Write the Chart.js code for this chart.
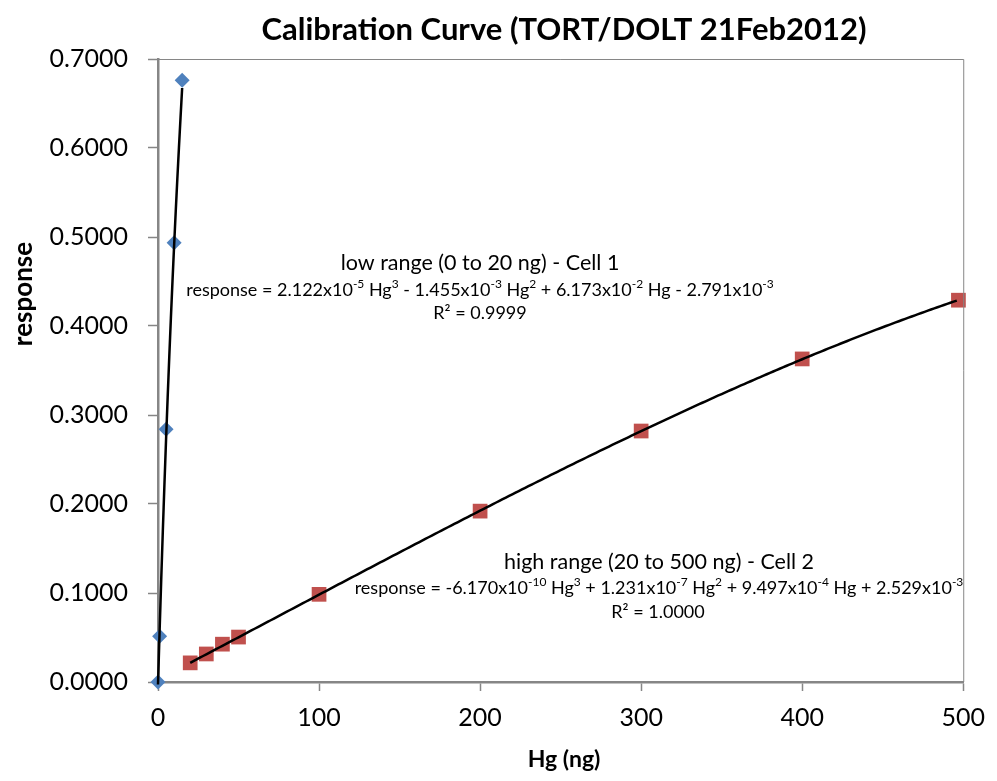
<!DOCTYPE html>
<html>
<head>
<meta charset="utf-8">
<script src="https://cdn.jsdelivr.net/npm/chart.js@4.4.1/dist/chart.umd.min.js"></script>
<style>
  html, body { margin: 0; padding: 0; background: #fff; }
  #wrap { width: 997px; height: 781px; position: relative; }
</style>
</head>
<body>
<div id="wrap"><canvas id="chart"></canvas></div>
<script>
  // measured standards, two cells
  const lowHg = [0, 1, 5, 10, 15];
  const lowResponse = [0.0000, 0.0515, 0.2840, 0.4935, 0.6760];
  const highHg = [20, 30, 40, 50, 100, 200, 300, 400, 497];
  const highResponse = [0.0215, 0.0315, 0.0425, 0.0505, 0.0985, 0.1920, 0.2820, 0.3630, 0.4290];

  // cubic fit coefficients, constant term first
  const lowCoef = [-2.791e-3, 6.173e-2, -1.455e-3, 2.122e-5];
  const highCoef = [2.529e-3, 9.497e-4, 1.231e-7, -6.170e-10];
  const lowFitRange = [0, 15];
  const highFitRange = [20, 497];

  const xTicks = [0, 100, 200, 300, 400, 500];
  const yTicks = [0, 0.1, 0.2, 0.3, 0.4, 0.5, 0.6, 0.7];

  const chartTitle = 'Calibration Curve (TORT/DOLT 21Feb2012)';
  const xTitle = 'Hg (ng)';
  const yTitle = 'response';
  const lowLabel = [
    'low range (0 to 20 ng) - Cell 1',
    'response = 2.122x10^{-5} Hg^{3} - 1.455x10^{-3} Hg^{2} + 6.173x10^{-2} Hg - 2.791x10^{-3}',
    'R² = 0.9999'
  ];
  const highLabel = [
    'high range (20 to 500 ng) - Cell 2',
    'response = -6.170x10^{-10} Hg^{3} + 1.231x10^{-7} Hg^{2} + 9.497x10^{-4} Hg + 2.529x10^{-3}',
    'R² = 1.0000'
  ];

  const FONT = 'Lato, "Open Sans", sans-serif';
  const AXIS = '#868686';

  function poly(c, x) {
    return c[0] + c[1] * x + c[2] * x * x + c[3] * x * x * x;
  }
  function curve(c, range, step) {
    const pts = [];
    for (let x = range[0]; x <= range[1] + 1e-9; x += step) pts.push({ x: x, y: poly(c, x) });
    return pts;
  }
  const toPts = (xs, ys) => xs.map((x, i) => ({ x: x, y: ys[i] }));

  // text with ^{...} superscripts, centred on cx
  function drawRich(ctx, str, cx, cy, size) {
    const parts = [];
    const re = /\^\{([^}]*)\}/g;
    let last = 0, m;
    while ((m = re.exec(str)) !== null) {
      if (m.index > last) parts.push({ t: str.slice(last, m.index), sup: false });
      parts.push({ t: m[1], sup: true });
      last = re.lastIndex;
    }
    if (last < str.length) parts.push({ t: str.slice(last), sup: false });
    const supSize = Math.round(size * 0.68);
    let total = 0;
    parts.forEach(p => {
      ctx.font = (p.sup ? supSize : size) + 'px ' + FONT;
      p.w = ctx.measureText(p.t).width;
      total += p.w;
    });
    let x = cx - total / 2;
    ctx.textAlign = 'left';
    ctx.textBaseline = 'middle';
    parts.forEach(p => {
      ctx.font = (p.sup ? supSize : size) + 'px ' + FONT;
      ctx.fillText(p.t, x, p.sup ? cy - size * 0.33 : cy);
      x += p.w;
    });
  }

  const decor = {
    id: 'decor',
    afterDraw(chart) {
      const ctx = chart.ctx;
      const a = chart.chartArea;
      ctx.save();
      // plot frame on top and right
      ctx.strokeStyle = AXIS;
      ctx.lineWidth = 1;
      ctx.beginPath();
      ctx.moveTo(a.left, a.top + 0.5);
      ctx.lineTo(a.right + 0.5, a.top + 0.5);
      ctx.lineTo(a.right + 0.5, a.bottom);
      ctx.stroke();

      ctx.fillStyle = '#000';
      ctx.textAlign = 'center';
      ctx.textBaseline = 'middle';
      ctx.font = 'bold 31px ' + FONT;
      ctx.fillText(chartTitle, 564, 30);

      ctx.font = 'bold 23px ' + FONT;
      ctx.fillText(xTitle, 564, 760);
      ctx.save();
      ctx.translate(24, 294);
      ctx.rotate(-Math.PI / 2);
      ctx.font = 'bold 26px ' + FONT;
      ctx.fillText(yTitle, 0, 0);
      ctx.restore();

      ctx.textAlign = 'center';
      ctx.font = '21.5px ' + FONT;
      ctx.fillText(lowLabel[0], 480, 263);
      drawRich(ctx, lowLabel[1], 480, 290, 18);
      drawRich(ctx, lowLabel[2], 480, 313, 18);

      ctx.textAlign = 'center';
      ctx.font = '21.5px ' + FONT;
      ctx.fillText(highLabel[0], 659, 562);
      drawRich(ctx, highLabel[1], 659, 588, 18);
      drawRich(ctx, highLabel[2], 658, 612, 18);
      ctx.restore();
    }
  };

  new Chart(document.getElementById('chart'), {
    type: 'scatter',
    data: {
      datasets: [
        {
          label: 'low fit',
          data: curve(lowCoef, lowFitRange, 1),
          showLine: true,
          tension: 0.001,
          borderColor: '#000',
          borderWidth: 2.5,
          pointRadius: 0,
          clip: false,
          order: 0
        },
        {
          label: 'high fit',
          data: curve(highCoef, highFitRange, 4),
          showLine: true,
          tension: 0.001,
          borderColor: '#000',
          borderWidth: 2.5,
          pointRadius: 0,
          clip: false,
          order: 0
        },
        {
          label: 'Cell 1',
          data: toPts(lowHg, lowResponse),
          pointStyle: 'rectRot',
          pointRadius: 7.5,
          backgroundColor: '#4F81BD',
          borderColor: '#4F81BD',
          borderWidth: 0,
          clip: false,
          order: 1
        },
        {
          label: 'Cell 2',
          data: toPts(highHg, highResponse),
          pointStyle: 'rect',
          pointRadius: 10.4,
          backgroundColor: '#C0504D',
          borderColor: '#C0504D',
          borderWidth: 0,
          clip: false,
          order: 1
        }
      ]
    },
    options: {
      responsive: true,
      maintainAspectRatio: false,
      animation: false,
      layout: { padding: { top: 59, right: 26, bottom: 0, left: 0 } },
      plugins: {
        legend: { display: false },
        title: { display: false },
        tooltip: { enabled: false }
      },
      scales: {
        x: {
          type: 'linear',
          min: 0,
          max: 500,
          afterFit: s => { s.height = 99; },
          afterBuildTicks: s => { s.ticks = xTicks.map(v => ({ value: v })); },
          ticks: {
            color: '#000',
            font: { family: FONT, size: 25 },
            padding: 12
          },
          grid: { drawOnChartArea: false, tickLength: 9, tickColor: AXIS, tickWidth: 1.5 },
          border: { color: AXIS, width: 2.5 }
        },
        y: {
          type: 'linear',
          min: 0,
          max: 0.7,
          afterFit: s => { s.width = 158; },
          afterBuildTicks: s => { s.ticks = yTicks.map(v => ({ value: v })); },
          ticks: {
            color: '#000',
            font: { family: FONT, size: 25 },
            padding: 20,
            callback: v => v.toFixed(4)
          },
          grid: { drawOnChartArea: false, tickLength: 10, tickColor: AXIS, tickWidth: 1.5 },
          border: { color: AXIS, width: 2.5 }
        }
      }
    },
    plugins: [decor]
  });
</script>
</body>
</html>
